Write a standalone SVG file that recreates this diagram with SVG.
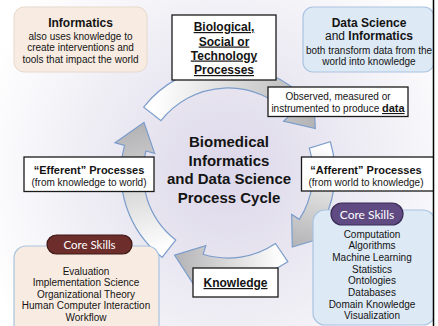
<svg xmlns="http://www.w3.org/2000/svg" width="438" height="326" viewBox="0 0 438 326">
<defs>
<radialGradient id="bg" cx="228" cy="173" r="260" gradientUnits="userSpaceOnUse">
<stop offset="0" stop-color="#dcd7ea"/>
<stop offset="0.45" stop-color="#ebe9f2"/>
<stop offset="1" stop-color="#ffffff"/>
</radialGradient>
<linearGradient id="gA" gradientUnits="userSpaceOnUse" x1="168.9" y1="248.6" x2="140" y2="125"><stop offset="0" stop-color="#ffffff"/><stop offset="1" stop-color="#b3b3b5"/></linearGradient>
<linearGradient id="gB" gradientUnits="userSpaceOnUse" x1="152.4" y1="113.9" x2="315.3" y2="128.5"><stop offset="0" stop-color="#ffffff"/><stop offset="1" stop-color="#b3b3b5"/></linearGradient>
<linearGradient id="gC" gradientUnits="userSpaceOnUse" x1="319.8" y1="144.9" x2="292.3" y2="247"><stop offset="0" stop-color="#ffffff"/><stop offset="1" stop-color="#b3b3b5"/></linearGradient>
<linearGradient id="gD" gradientUnits="userSpaceOnUse" x1="281.7" y1="252.6" x2="174.6" y2="255.2"><stop offset="0" stop-color="#ffffff"/><stop offset="1" stop-color="#b3b3b5"/></linearGradient>
<style>
text{font-family:"Liberation Sans",Arial,sans-serif;fill:#141414;text-anchor:middle}
.b{font-weight:bold}
.u{text-decoration:underline}
.s10{font-size:10px}
.s11{font-size:11px}
.s12{font-size:12px}
.title{font-size:15px;font-weight:bold}
.wbox{fill:#ffffff;stroke:#1a1a1a;stroke-width:1.3}
.peach{fill:#f8ece2;stroke:#e7d8cb;stroke-width:1}
.peachb{fill:#f8ece2;stroke:#a9c3e0;stroke-width:1.2}
.blue{fill:#dde9f5;stroke:#a9c3e0;stroke-width:1.2}
.arrow{stroke:#7c9dcb;stroke-width:1.2;stroke-linejoin:miter}
.pill{font-family:Lato,"Open Sans",sans-serif;fill:#ffffff}
</style>
</defs>
<rect x="0" y="0" width="438" height="326" fill="url(#bg)"/>

<g id="connectors">
<path class="arrow" fill="url(#gA)" d="M162.1,257.3 A107,107 0 0 1 124.6,145.3 L115.0,142.7 L144.0,122.5 L154.6,153.3 L145.9,151.0 A85,85 0 0 0 175.7,240.0 Z"/>
<path class="arrow" fill="url(#gB)" d="M143.7,107.1 A107,107 0 0 1 306.3,100.0 L313.6,93.2 L315.3,128.5 L283.6,121.2 L290.2,115.0 A85,85 0 0 0 161.0,120.7 Z"/>
<path class="arrow" fill="url(#gC)" d="M330.3,141.7 A107,107 0 0 1 317.7,231.3 L326.1,236.7 L292.3,247.0 L291.7,214.4 L299.3,219.3 A85,85 0 0 0 309.3,148.1 Z"/>
<path class="arrow" fill="url(#gD)" d="M287.8,261.7 A107,107 0 0 1 196.7,275.3 L193.8,284.9 L174.6,255.2 L205.8,245.7 L203.1,254.3 A85,85 0 0 0 275.5,243.5 Z"/>
</g>

<g id="title">
<text class="title" x="229" y="147">Biomedical</text>
<text class="title" x="229" y="165.5">Informatics</text>
<text class="title" x="229" y="184">and Data Science</text>
<text class="title" x="229" y="202.5">Process Cycle</text>
</g>

<g id="informatics">
<rect class="peach" x="14" y="7" width="133" height="65" rx="10"/>
<text class="b s12" x="80.5" y="27">Informatics</text>
<text class="s10" x="80.5" y="39.5">also uses knowledge to</text>
<text class="s10" x="80.5" y="51">create interventions and</text>
<text class="s10" x="80.5" y="62.5">tools that impact the world</text>
</g>

<g id="biological">
<rect class="wbox" x="172" y="15" width="104" height="65"/>
<text class="b u s12" x="224" y="31">Biological,</text>
<text class="b u s12" x="224" y="45.5">Social or</text>
<text class="b u s12" x="224" y="59.5">Technology</text>
<text class="b u s12" x="224" y="74">Processes</text>
</g>

<g id="datascience">
<rect class="blue" x="303" y="7" width="131" height="65" rx="10"/>
<text class="b s12" x="369" y="27">Data Science</text>
<text class="s12" x="369" y="40">and <tspan class="b">Informatics</tspan></text>
<text class="s10" x="369" y="53.5">both transform data from the</text>
<text class="s10" x="369" y="65">world into knowledge</text>
</g>

<g id="observed">
<rect class="wbox" x="268" y="87" width="140" height="29.5"/>
<text class="s10" x="338" y="100">Observed, measured or</text>
<text class="s10" x="338" y="112">instrumented to produce <tspan class="b u" font-size="11">data</tspan></text>
</g>

<g id="efferent">
<rect class="wbox" x="24" y="157" width="130" height="34.5"/>
<text class="b s11" x="89" y="173.5">“Efferent” Processes</text>
<text class="s10" x="89" y="185.5">(from knowledge to world)</text>
</g>

<g id="afferent">
<rect class="wbox" x="301.5" y="157" width="140" height="34"/>
<text class="b s11" x="366" y="173.5">“Afferent” Processes</text>
<text class="s10" x="366" y="185.5">(from world to knowledge)</text>
</g>

<g id="knowledge">
<rect class="wbox" x="193" y="268" width="85" height="29"/>
<text class="b u s12" x="235.5" y="287">Knowledge</text>
</g>

<g id="skills-left">
<rect class="peachb" x="14" y="246" width="145" height="95" rx="12"/>
<rect x="47" y="235" width="85" height="19" rx="9.5" fill="#6c2d2b" stroke="#3e1817" stroke-width="1.2"/>
<text class="pill" x="89.5" y="248.5" font-size="11.5">Core Skills</text>
<text class="s10" x="86" y="274.5">Evaluation</text>
<text class="s10" x="86" y="286">Implementation Science</text>
<text class="s10" x="86" y="297.5">Organizational Theory</text>
<text class="s10" x="86" y="309">Human Computer Interaction</text>
<text class="s10" x="86" y="320.5">Workflow</text>
</g>

<g id="skills-right">
<rect class="blue" x="313" y="210" width="122" height="115" rx="12"/>
<rect x="331" y="203" width="72" height="22" rx="11" fill="#5f4a82" stroke="#382a55" stroke-width="1.2"/>
<text class="pill" x="367" y="218.5" font-size="12">Core Skills</text>
<text class="s10" x="372" y="237.5">Computation</text>
<text class="s10" x="372" y="249.2">Algorithms</text>
<text class="s10" x="372" y="260.9">Machine Learning</text>
<text class="s10" x="372" y="272.6">Statistics</text>
<text class="s10" x="372" y="284.3">Ontologies</text>
<text class="s10" x="372" y="296">Databases</text>
<text class="s10" x="372" y="307.7">Domain Knowledge</text>
<text class="s10" x="372" y="319.4">Visualization</text>
</g>

<rect x="434" y="0" width="4" height="326" fill="#ffffff"/>
<line x1="433.5" y1="0" x2="433.5" y2="326" stroke="#000000" stroke-width="1.5"/>
</svg>
